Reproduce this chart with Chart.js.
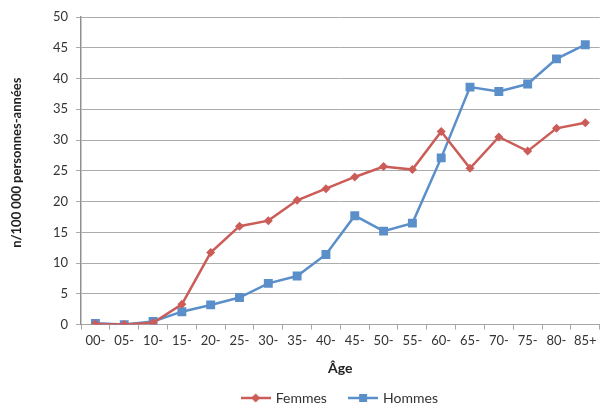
<!DOCTYPE html>
<html>
<head>
<meta charset="utf-8">
<script src="https://cdn.jsdelivr.net/npm/chart.js@4.4.1/dist/chart.umd.min.js"></script>
<style>
    html, body { margin: 0; padding: 0; background: #fff; overflow: hidden; }
    #wrap { position: absolute; left: 0; top: 0; width: 606px; height: 403px; }
</style>
</head>
<body>
<div id="wrap"><canvas id="chart" width="606" height="403"></canvas></div>
<script>
const ageGroups = ["00-", "05-", "10-", "15-", "20-", "25-", "30-", "35-", "40-", "45-", "50-", "55-", "60-", "65-", "70-", "75-", "80-", "85+"];
const femmes = [0.1, 0, 0.3, 3.3, 11.7, 16.0, 16.9, 20.2, 22.1, 24.0, 25.7, 25.2, 31.4, 25.4, 30.5, 28.2, 31.9, 32.8];
const hommes = [0.2, 0, 0.5, 2.1, 3.2, 4.4, 6.7, 7.9, 11.4, 17.7, 15.2, 16.5, 27.1, 38.6, 37.9, 39.1, 43.2, 45.5];
const yTicks = [0, 5, 10, 15, 20, 25, 30, 35, 40, 45, 50];

const RED = "#CB5C58";
const BLUE = "#5B8FCA";
const FONT = "Lato, 'Open Sans', sans-serif";

// small line + marker picture for the legend
function legendIcon(color, style, shift) {
    const c = document.createElement("canvas");
    c.width = 30 + 2 * shift;
    c.height = 12;
    const g = c.getContext("2d");
    g.translate(2 * shift, 0);
    g.strokeStyle = color;
    g.lineWidth = 2.5;
    g.beginPath();
    g.moveTo(0, 6);
    g.lineTo(30, 6);
    g.stroke();
    g.fillStyle = color;
    if (style === "rect") {
        g.fillRect(11, 2, 8, 8);
    } else {
        g.beginPath();
        g.moveTo(15, 1.5);
        g.lineTo(19.5, 6);
        g.lineTo(15, 10.5);
        g.lineTo(10.5, 6);
        g.closePath();
        g.fill();
    }
    return c;
}

const ctx = document.getElementById("chart").getContext("2d");
new Chart(ctx, {
    type: "line",
    data: {
        labels: ageGroups,
        datasets: [
            {
                label: "Femmes",
                data: femmes,
                borderColor: RED,
                backgroundColor: RED,
                borderWidth: 2.5,
                pointStyle: "rectRot",
                pointRadius: 4.5,
                pointBorderWidth: 0,
                tension: 0,
            },
            {
                label: "Hommes",
                data: hommes,
                borderColor: BLUE,
                backgroundColor: BLUE,
                borderWidth: 2.5,
                pointStyle: "rect",
                pointRadius: 6.3,
                pointBorderWidth: 0,
                tension: 0,
            },
        ],
    },
    options: {
        responsive: false,
        animation: false,
        layout: { padding: { top: 17, right: 0, left: 0, bottom: -12 } },
        plugins: {
            tooltip: { enabled: false },
            legend: {
                position: "bottom",
                fullSize: false,
                labels: {
                    usePointStyle: true,
                    pointStyleWidth: 26,
                    padding: 4,
                    color: "#333",
                    font: { family: FONT, size: 14 },
                    generateLabels: (chart) =>
                        chart.data.datasets.map((ds, i) => ({
                            // em/en spaces keep the gap between the two entries
                            text: i === 0 ? ds.label + "\u2003\u2002\u2009" : ds.label,
                            datasetIndex: i,
                            fontColor: "#333",
                            lineWidth: 0,
                            pointStyle: legendIcon(ds.borderColor, ds.pointStyle, 0),
                        })),
                },
            },
        },
        scales: {
            x: {
                offset: true,
                grid: {
                    offset: true,
                    drawOnChartArea: false,
                    drawTicks: true,
                    tickLength: 5,
                    color: "#A6A6A6",
                },
                border: { color: "#A6A6A6", width: 1 },
                ticks: {
                    autoSkip: false,
                    maxRotation: 0,
                    padding: 3,
                    color: "#333",
                    font: { family: FONT, size: 13 },
                },
                title: {
                    display: true,
                    text: "Âge",
                    color: "#222",
                    padding: { top: 9, bottom: 10 },
                    font: { family: FONT, size: 14, weight: "bold" },
                },
            },
            y: {
                min: 0,
                max: 50,
                afterBuildTicks: (scale) => {
                    scale.ticks = yTicks.map((v) => ({ value: v }));
                },
                afterFit: (scale) => {
                    scale.width = 81;
                },
                grid: {
                    color: "#ABABAB",
                    lineWidth: 1,
                    tickLength: 5,
                },
                border: { color: "#909090", width: 1.5 },
                ticks: {
                    padding: 8,
                    color: "#333",
                    font: { family: FONT, size: 13 },
                },
                title: {
                    display: true,
                    // leading spaces lift the title a little, as in the original
                    text: "\u2003\u2002n/100 000 personnes-années",
                    color: "#222",
                    padding: { top: 9, bottom: 0 },
                    font: { family: FONT, size: 13, weight: "bold" },
                },
            },
        },
    },
});
</script>
</body>
</html>
